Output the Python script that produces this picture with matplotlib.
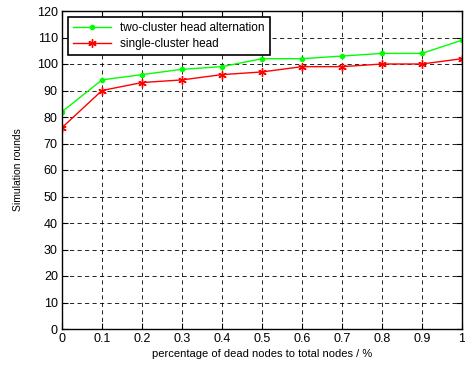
import matplotlib
matplotlib.use("Agg")
import matplotlib.pyplot as plt

plt.rcParams['font.family'] = ['Liberation Sans', 'DejaVu Sans']

x_values = [0, 0.1, 0.2, 0.3, 0.4, 0.5, 0.6, 0.7, 0.8, 0.9, 1.0]
two_cluster = [82, 94, 96, 98, 99, 102, 102, 103, 104, 104, 109]
single_cluster = [76, 90, 93, 94, 96, 97, 99, 99, 100, 100, 102]
x_ticks = [0, 0.1, 0.2, 0.3, 0.4, 0.5, 0.6, 0.7, 0.8, 0.9, 1]
x_tick_labels = ['0', '0.1', '0.2', '0.3', '0.4', '0.5', '0.6', '0.7', '0.8', '0.9', '1']
y_ticks = list(range(0, 121, 10))

fig = plt.figure(figsize=(4.65, 3.65), dpi=100)
ax = fig.add_axes([62/465, 36/365, 400/465, 318/365])

ax.plot(x_values, two_cluster, color=(0, 1, 0), lw=1, marker='.', markersize=6,
        label='two-cluster head alternation')
ax.plot(x_values, single_cluster, color=(1, 0, 0), lw=1, marker=(6, 2, 0), markersize=6,
        markeredgewidth=1, label='single-cluster head')

ax.set_xlim(0, 1)
ax.set_ylim(0, 120)
ax.set_xticks(x_ticks)
ax.set_xticklabels(x_tick_labels)
ax.set_yticks(y_ticks)
ax.tick_params(direction='in', top=True, right=True, labelsize=9, length=4, width=0.8, pad=3)
ax.grid(True, color='k', linestyle=(0, (5, 4)), linewidth=0.6)
for s in ax.spines.values():
    s.set_linewidth(1.0)

ax.set_xlabel('percentage of dead nodes to total nodes / %', fontsize=8, labelpad=3)
ax.set_ylabel('Simulation rounds', fontsize=7.5, labelpad=10)

leg = ax.legend(loc='upper left', fontsize=8.5, frameon=True, fancybox=False,
                edgecolor='k', framealpha=1, borderaxespad=0.5, handlelength=3.2,
                borderpad=0.45, labelspacing=0.3)
leg.get_frame().set_linewidth(1.2)

fig.savefig('out.png', dpi=100)
